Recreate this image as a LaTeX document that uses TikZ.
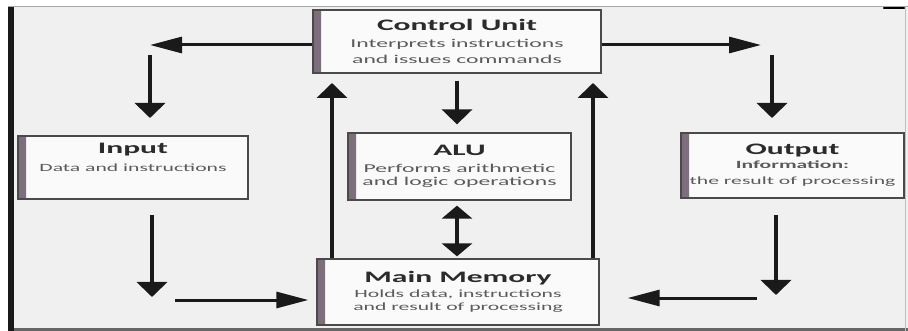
\documentclass[tikz,border=0pt]{standalone}
\usepackage{fontspec}
\setmainfont{Carlito}[FakeStretch=1.97]
\usetikzlibrary{arrows.meta}
\definecolor{panel}{HTML}{F0F0F0}
\definecolor{boxfill}{HTML}{FAFAFA}
\definecolor{boxc}{HTML}{4A4A4A}
\definecolor{bandc}{HTML}{7C6D7A}
\definecolor{titlec}{HTML}{2B2B2B}
\definecolor{bodyc}{HTML}{5A5A5A}
\definecolor{arrc}{HTML}{1A1A1A}
\tikzset{
  box/.style={draw=boxc, line width=1.3pt, fill=boxfill, inner sep=0pt, align=center, text=bodyc,
    path picture={\shade[left color=bandc, right color=boxfill!70!bandc]
      (path picture bounding box.north west) rectangle ([xshift=8pt]path picture bounding box.south west);}},
  varrow/.style={draw=arrc, line width=4.5pt, -{Triangle[length=15pt,width=30pt]}},
  dvarrow/.style={draw=arrc, line width=4.5pt, {Triangle[length=13pt,width=30pt]}-{Triangle[length=13pt,width=30pt]}},
  harrow/.style={draw=arrc, line width=3pt, -{Triangle[length=32pt,width=16pt]}},
}
\newcommand{\ttl}[1]{{\fontsize{16}{18}\selectfont\bfseries\color{titlec}#1}}
\begin{document}
\begin{tikzpicture}[x=1pt,y=-1pt]
\useasboundingbox (0,0) rectangle (908,331);
% panel
\fill[white] (0,0) rectangle (908,331);
\fill[panel] (8,7) rectangle (908,331);
\draw[gray!70, line width=1pt] (8,7) -- (908,7);
\draw[gray!80!black, line width=2.5pt] (8,329.5) -- (908,329.5);
\fill[black!90] (8,7) rectangle (14,331);
\draw[black, line width=2.5pt, line cap=round] (884,8) -- (904,8);
\draw[gray!50, line width=0.8pt] (905,7) -- (905,331);
% boxes
\node[box, minimum width=288, minimum height=63, font=\fontsize{12}{16}\selectfont] (cu) at (457,41.5)
  {\ttl{Control Unit}\\[1pt] Interprets instructions\\ and issues commands};
\node[box, minimum width=230, minimum height=63, font=\fontsize{11}{14}\selectfont] (in) at (133,167.5)
  {\ttl{Input}\\[4pt] Data and instructions\\[6pt]};
\node[box, minimum width=223, minimum height=67, font=\fontsize{12}{13}\selectfont] (alu) at (459.5,166.5)
  {\ttl{ALU}\\[4pt] Performs arithmetic\\ and logic operations};
\node[box, minimum width=223, minimum height=65, font=\fontsize{11}{16}\selectfont] (out) at (792.5,165.5)
  {\ttl{Output}\\[-2pt] \textbf{Information:}\\ the result of processing};
\node[box, minimum width=282, minimum height=66, font=\fontsize{11}{13}\selectfont] (mm) at (458,292)
  {\ttl{Main Memory}\\[2pt] Holds data, instructions\\ and result of processing};
% free ends
\coordinate (l1) at (150,45);
\coordinate (l2a) at (150,55);
\coordinate (l2b) at (150,118);
\coordinate (u1) at (332,83);
\coordinate (u2) at (593,83);
\coordinate (r1) at (761,45);
\coordinate (r2a) at (772,55);
\coordinate (r2b) at (772,118);
\coordinate (d1a) at (152,215);
\coordinate (d1b) at (152,297);
\coordinate (h1) at (175,300);
\coordinate (d2a) at (776,215);
\coordinate (d2b) at (776,295);
\coordinate (h2) at (757,298);
% connectors
\draw[harrow] (cu.west |- l1) -- (l1);
\draw[varrow] (l2a) -- (l2b);
\draw[harrow] (cu.east |- r1) -- (r1);
\draw[varrow] (r2a) -- (r2b);
\draw[varrow] ([yshift=-7pt]cu.south) -- ([yshift=8pt]cu.south |- alu.north);
\draw[dvarrow] ([yshift=-5pt]cu.south |- alu.south) -- ([yshift=2pt]cu.south |- mm.north);
\draw[varrow] (mm.north -| u1) -- (u1);
\draw[varrow] (mm.north -| u2) -- (u2);
\draw[varrow] (d1a) -- (d1b);
\draw[harrow] (h1) -- ([xshift=-8pt]mm.west |- h1);
\draw[varrow] (d2a) -- (d2b);
\draw[harrow] (h2) -- ([xshift=28pt]mm.east |- h2);
\end{tikzpicture}
\end{document}
